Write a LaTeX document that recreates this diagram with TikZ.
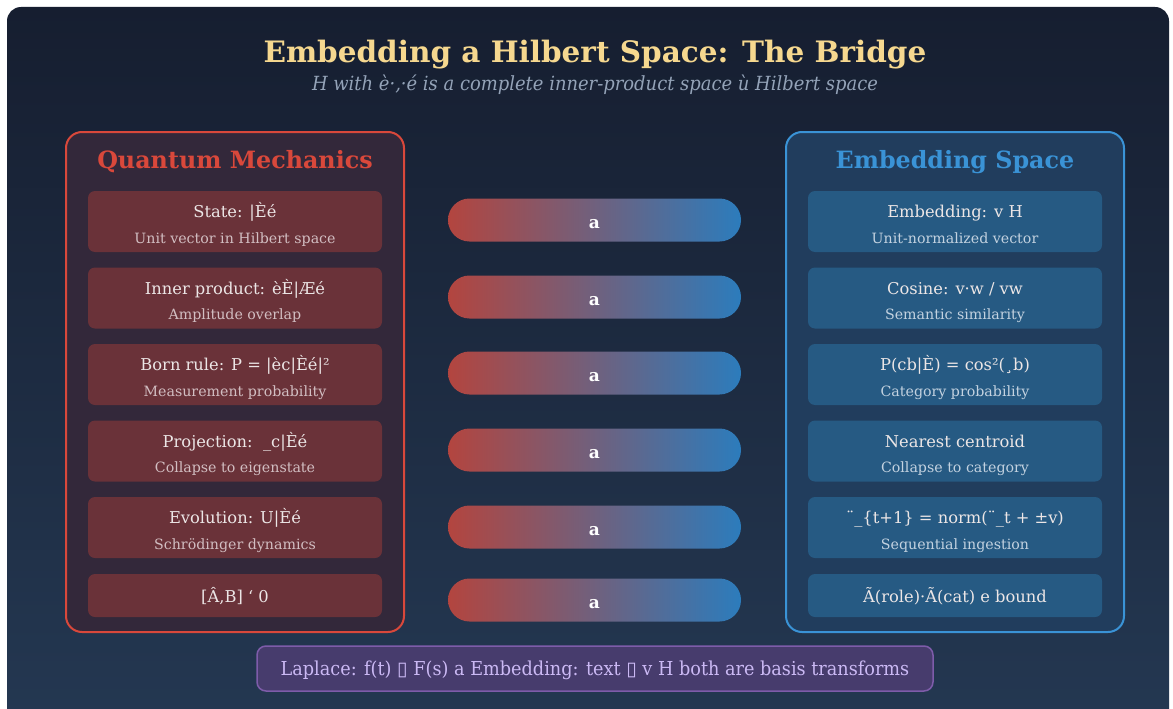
\documentclass[tikz,border=0pt]{standalone}
\usepackage{fontspec}
\setmainfont{DejaVu Serif}
\newfontfamily\symfont{DejaVu Sans}
\newfontfamily\condfont[FakeStretch=0.92]{DejaVu Serif}
\definecolor{bgtop}{HTML}{161E30}
\definecolor{bgbot}{HTML}{243852}
\definecolor{titlecol}{HTML}{F6D88F}
\definecolor{subcol}{HTML}{94A3B8}
\definecolor{qborder}{HTML}{D9483B}
\definecolor{qfill}{HTML}{33283A}
\definecolor{qitem}{HTML}{6A3239}
\definecolor{qsub}{HTML}{D2BEC2}
\definecolor{eborder}{HTML}{3A93D6}
\definecolor{efill}{HTML}{213D5D}
\definecolor{eitem}{HTML}{265A83}
\definecolor{esub}{HTML}{C3D2E0}
\definecolor{maincol}{HTML}{ECE6E6}
\definecolor{pillred}{HTML}{B3453F}
\definecolor{pillpurple}{HTML}{7A4A9C}
\definecolor{pillblue}{HTML}{2C7CBC}
\definecolor{notefill}{HTML}{473C6D}
\definecolor{noteborder}{HTML}{7E5CAA}
\definecolor{notetext}{HTML}{CBB9F4}
\tikzset{
  qcol/.style={draw=qborder, fill=qfill, line width=2pt, rounded corners=16pt, minimum width=338pt, minimum height=500pt, inner sep=0pt},
  ecol/.style={draw=eborder, fill=efill, line width=2pt, rounded corners=16pt, minimum width=338pt, minimum height=500pt, inner sep=0pt},
  qbox/.style={fill=qitem, rounded corners=7pt, minimum width=294pt, minimum height=61pt, inner sep=0pt},
  ebox/.style={fill=eitem, rounded corners=7pt, minimum width=294pt, minimum height=61pt, inner sep=0pt},
  qboxs/.style={qbox, minimum height=43pt},
  eboxs/.style={ebox, minimum height=43pt},
  maintxt/.style={text=maincol, font=\fontsize{16.3}{18}\selectfont, inner sep=0pt, anchor=base},
  qsubtxt/.style={text=qsub, font=\fontsize{14.2}{16}\selectfont, inner sep=0pt, anchor=base},
  esubtxt/.style={text=esub, font=\fontsize{14.2}{16}\selectfont, inner sep=0pt, anchor=base},
  header/.style={font=\fontsize{23.8}{27}\selectfont\bfseries, inner sep=0pt, anchor=base},
  pill/.style={rounded corners=21.5pt, left color=pillred, middle color=pillpurple, right color=pillblue, minimum width=293pt, minimum height=43pt, inner sep=0pt},
  pilltxt/.style={text=white, font=\fontsize{17}{19}\selectfont\bfseries, inner sep=0pt, anchor=base},
}
\newcommand\tworow[7]{% name, x, cy, boxstyle, substyle, main, sub
  \node[#4] (#1) at (#2,#3) {};
  \node[maintxt] (#1m) at (#2,#3-4) {#6};
  \node[#5] (#1s) at (#2,#3+21.5) {#7};
}
\newcommand\onerow[5]{% name, x, cy, boxstyle, main
  \node[#4] (#1) at (#2,#3) {};
  \node[maintxt] (#1m) at (#2,#3+6.5) {#5};
}
\begin{document}
\begin{tikzpicture}[x=1pt,y=-1pt]
\useasboundingbox (0,0) rectangle (1173,709);
\fill[white] (0,0) rectangle (1173,709);
\begin{scope}
\clip (0,0) rectangle (1173,709);
\shade[rounded corners=14pt, top color=bgtop, bottom color=bgbot] (7,7) rectangle (1169,730);
\end{scope}
% title
\node[text=titlecol, font=\fontsize{29.5}{33}\selectfont\bfseries, inner sep=0pt, anchor=base] (title) at (595,63) {Embedding a Hilbert Space: The Bridge};
\node[text=subcol, font=\condfont\itshape\fontsize{19.5}{22}\selectfont, inner sep=0pt, anchor=base] (subtitle) at (595,91) {H with è·,·é is a complete inner-product space ù Hilbert space};
% columns
\node[qcol] (qm) at (235,382) {};
\node[ecol] (es) at (955,382) {};
\node[header, text=qborder] (qmh) at (235,168) {Quantum Mechanics};
\node[header, text=eborder] (esh) at (955,168) {Embedding Space};
% left items
\tworow{q1}{235}{221.5}{qbox}{qsubtxt}{State: |Èé}{Unit vector in Hilbert space}
\tworow{q2}{235}{298}{qbox}{qsubtxt}{Inner product: èÈ|Æé}{Amplitude overlap}
\tworow{q3}{235}{374.5}{qbox}{qsubtxt}{Born rule: P = |èc|Èé|²}{Measurement probability}
\tworow{q4}{235}{451}{qbox}{qsubtxt}{Projection:~~\_c|Èé}{Collapse to eigenstate}
\tworow{q5}{235}{527.5}{qbox}{qsubtxt}{Evolution: U|Èé}{Schrödinger dynamics}
\onerow{q6}{235}{595.5}{qboxs}{[Â,B] \symbol{96} 0}
% right items
\tworow{e1}{955}{221.5}{ebox}{esubtxt}{Embedding: v~H}{Unit-normalized vector}
\tworow{e2}{955}{298}{ebox}{esubtxt}{Cosine: v·w / vw}{Semantic similarity}
\tworow{e3}{955}{374.5}{ebox}{esubtxt}{P(cb|È) = cos²(¸b)}{Category probability}
\tworow{e4}{955}{451}{ebox}{esubtxt}{Nearest centroid}{Collapse to category}
\tworow{e5}{955}{527.5}{ebox}{esubtxt}{¨\_\{t+1\} = norm(¨\_t + ±v)}{Sequential ingestion}
\onerow{e6}{955}{595.5}{eboxs}{Ã(role)·Ã(cat) e bound}
% bridges
\foreach \i/\yy in {1/220,2/297,3/373,4/450,5/527,6/600}{
  \node[pill] (p\i) at (594.5,\yy) {};
  \node[pilltxt] (p\i t) at (594.5,\yy+8) {a};
}
% bottom note
\node[fill=notefill, draw=noteborder, line width=1.5pt, rounded corners=9pt, minimum width=676pt, minimum height=45pt, inner sep=0pt] (note) at (595,668.5) {};
\node[text=notetext, font=\condfont\fontsize{19.2}{22}\selectfont, inner sep=0pt, anchor=base] (notet) at (595,675) {Laplace: f(t) {\symfont ▯} F(s) a Embedding: text {\symfont ▯} v H both are basis transforms};
\end{tikzpicture}
\end{document}
